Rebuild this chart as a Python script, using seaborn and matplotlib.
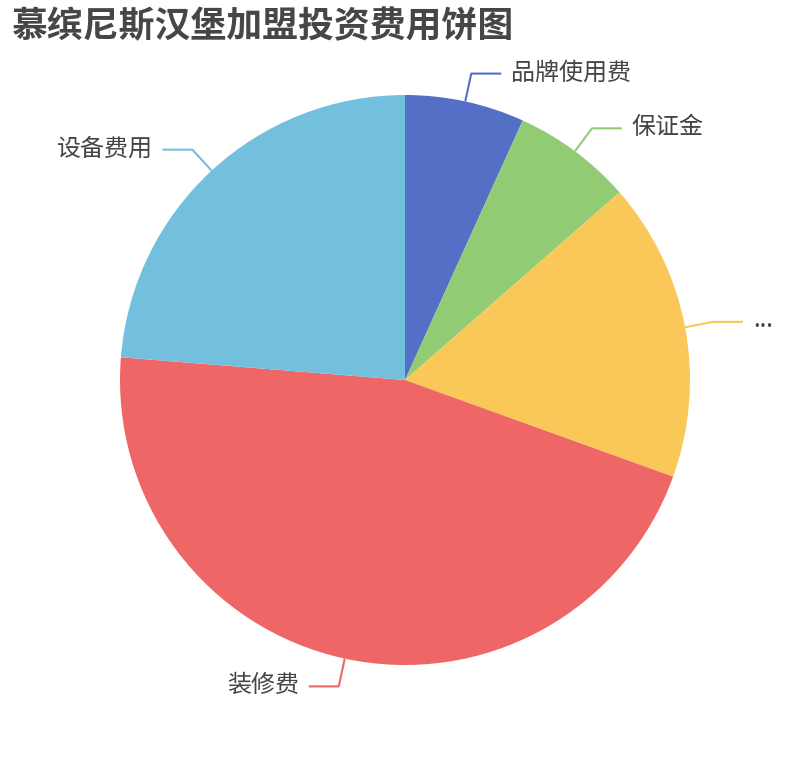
import numpy as np
import matplotlib
matplotlib.use("Agg")
import matplotlib.pyplot as plt
import seaborn as sns

# ==========================================================
# data
# ==========================================================
labels = ["品牌使用费", "保证金", "...", "装修费", "设备费用"]
values = [2, 2, 5, 13.5, 7]
colors = ["#5470c6", "#91cc75", "#fac858", "#ee6666", "#73c0de"]
title = "慕缤尼斯汉堡加盟投资费用饼图"

sns.set_theme(style="white")
plt.rcParams["font.family"] = ["Noto Sans CJK SC", "DejaVu Sans"]

fig = plt.figure(figsize=(8.1, 7.6), dpi=100)
ax = fig.add_axes([0, 0, 1, 1])

wedges, _ = ax.pie(
    values,
    colors=sns.color_palette(colors),
    startangle=90,
    counterclock=False,
    radius=1.0,
    wedgeprops=dict(edgecolor="none", linewidth=0),
)

# label lines like echarts: radial piece then horizontal piece
for w, lab, col in zip(wedges, labels, colors):
    mid = np.deg2rad((w.theta1 + w.theta2) / 2)
    x0, y0 = np.cos(mid), np.sin(mid)
    x1, y1 = 1.1 * x0, 1.1 * y0
    side = 1 if x0 >= 0 else -1
    x2 = x1 + side * 0.105
    ax.plot([x0, x1, x2], [y0, y1, y1], color=col, lw=1.5,
            solid_capstyle="butt", zorder=3)
    ax.text(x2 + side * 0.035, y1 + 0.005, lab,
            ha="left" if side > 0 else "right", va="center",
            fontsize=17.3, color="#444444")

ax.set_xlim(-405 / 285, 405 / 285)
ax.set_ylim(-380 / 285, 380 / 285)
ax.set_aspect("auto")
ax.axis("off")

fig.text(11 / 810, 1 - 27 / 760, title, ha="left", va="center",
         fontsize=25.8, fontweight="bold", color="#464646")

fig.savefig("out.png", dpi=100)
